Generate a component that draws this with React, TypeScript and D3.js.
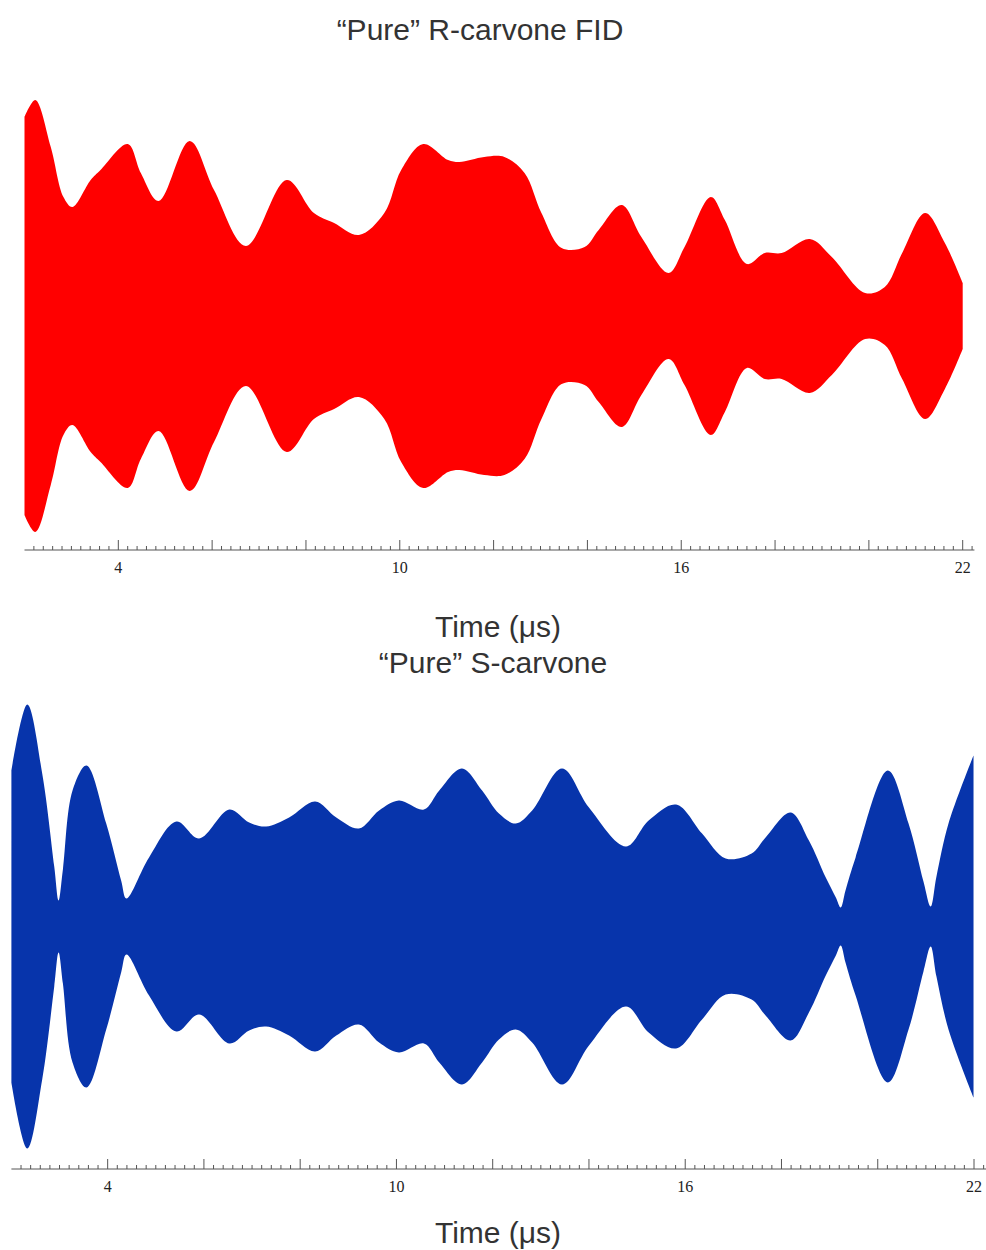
import * as d3 from 'd3'

// R-carvone FID envelope (time in µs, amplitude in a.u.)
const rTime = [
  2.0, 2.23, 2.56, 2.83, 3.02, 3.41, 3.62, 4.2, 4.48, 4.86, 5.52, 6.04, 6.72, 7.59, 8.17, 8.6,
  9.13, 9.67, 10.03, 10.5, 11.03, 11.27, 11.8, 12.23, 12.66, 13.02, 13.45, 13.94, 14.24, 14.73,
  15.15, 15.73, 16.07, 16.63, 16.93, 17.4, 17.78, 18.14, 18.74, 19.21, 19.92, 20.34, 20.71, 21.2,
  21.62, 22.0,
]
const rAmp = [
  199, 216, 169, 119, 109, 136, 146, 172, 143, 115, 175, 126, 70, 136, 103, 93, 81, 103, 146, 172,
  156, 154, 159, 159, 143, 103, 68, 69, 86, 111, 79, 43, 69, 119, 96, 52, 63, 63, 77, 59, 23, 29,
  63, 103, 73, 33,
]

// S-carvone FID envelope
const sTime = [
  2.0, 2.33, 2.64, 2.89, 2.98, 3.07, 3.27, 3.56, 3.97, 4.28, 4.39, 4.86, 5.43, 5.9, 6.53, 6.94,
  7.29, 7.77, 8.31, 8.75, 9.22, 9.64, 10.05, 10.57, 10.89, 11.36, 11.78, 12.13, 12.48, 12.82,
  13.44, 14.0, 14.77, 15.24, 15.81, 16.35, 16.84, 17.38, 17.67, 18.19, 18.57, 18.92, 19.13, 19.23,
  19.33, 19.54, 20.21, 20.64, 20.95, 21.1, 21.22, 21.47, 21.99,
]
const sAmp = [
  156, 222, 153, 60, 26, 57, 136, 161, 103, 46, 28, 69, 105, 88, 117, 104, 100, 109, 125, 109, 98,
  116, 126, 117, 136, 158, 136, 113, 103, 116, 158, 119, 80, 106, 122, 93, 68, 73, 89, 114, 86, 49,
  29, 19, 36, 69, 156, 103, 45, 20, 50, 103, 171,
]

const labelTicks = [4, 10, 16, 22]
const majorTicks = d3.range(4, 22.01, 2)
const minorTicks = d3.range(2.2, 22.25, 0.2).filter((t) => Math.abs(t / 2 - Math.round(t / 2)) > 0.01)

type Pt = { t: number; a: number }

const Panel = ({
  time,
  amp,
  color,
  title,
  titleX,
  titleY,
  xRange,
  center,
  axisY,
  labelY,
}: {
  time: number[]
  amp: number[]
  color: string
  title: string
  titleX: number
  titleY: number
  xRange: [number, number]
  center: number
  axisY: number
  labelY: number
}) => {
  const x = d3.scaleLinear().domain([2, 22]).range(xRange)
  const y = d3.scaleLinear().domain([-250, 250]).range([center + 250, center - 250])
  const data: Pt[] = time.map((t, i) => ({ t, a: amp[i] }))

  // envelope drawn symmetric around zero, smooth curve through the read points
  const area = d3
    .area<Pt>()
    .x((d) => x(d.t))
    .y0((d) => y(-d.a))
    .y1((d) => y(d.a))
    .curve(d3.curveCatmullRom.alpha(0.5))

  return (
    <g>
      <text
        x={titleX}
        y={titleY}
        textAnchor="middle"
        fontFamily="'Liberation Sans', Arial, sans-serif"
        fontSize={30}
        fill="#333"
      >
        {title}
      </text>
      <path d={area(data) ?? ''} fill={color} />
      <line x1={x(2)} x2={x(22.25)} y1={axisY} y2={axisY} stroke="#555" strokeWidth={1} />
      {minorTicks.map((t) => (
        <line key={'m' + t} x1={x(t)} x2={x(t)} y1={axisY} y2={axisY - 4} stroke="#555" strokeWidth={1} />
      ))}
      {majorTicks.map((t) => (
        <line key={'M' + t} x1={x(t)} x2={x(t)} y1={axisY} y2={axisY - 10} stroke="#555" strokeWidth={1} />
      ))}
      {labelTicks.map((t) => (
        <text
          key={'l' + t}
          x={x(t)}
          y={axisY + 23}
          textAnchor="middle"
          fontFamily="'Liberation Serif', 'Times New Roman', serif"
          fontSize={16}
          fill="#222"
        >
          {t}
        </text>
      ))}
      <text
        x={498}
        y={labelY}
        textAnchor="middle"
        fontFamily="'Liberation Sans', Arial, sans-serif"
        fontSize={30}
        fill="#333"
      >
        Time (μs)
      </text>
    </g>
  )
}

export default function App() {
  return (
    <svg
      width={986}
      height={1250}
      style={{ position: 'absolute', left: 0, top: 0, background: '#fff' }}
    >
      <Panel
        time={rTime}
        amp={rAmp}
        color="#ff0000"
        title="“Pure” R-carvone FID"
        titleX={480}
        titleY={40}
        xRange={[24.5, 962.7]}
        center={316}
        axisY={550}
        labelY={637}
      />
      <Panel
        time={sTime}
        amp={sAmp}
        color="#0734ab"
        title="“Pure” S-carvone"
        titleX={493}
        titleY={673}
        xRange={[11.4, 974]}
        center={926.5}
        axisY={1169}
        labelY={1243}
      />
    </svg>
  )
}
